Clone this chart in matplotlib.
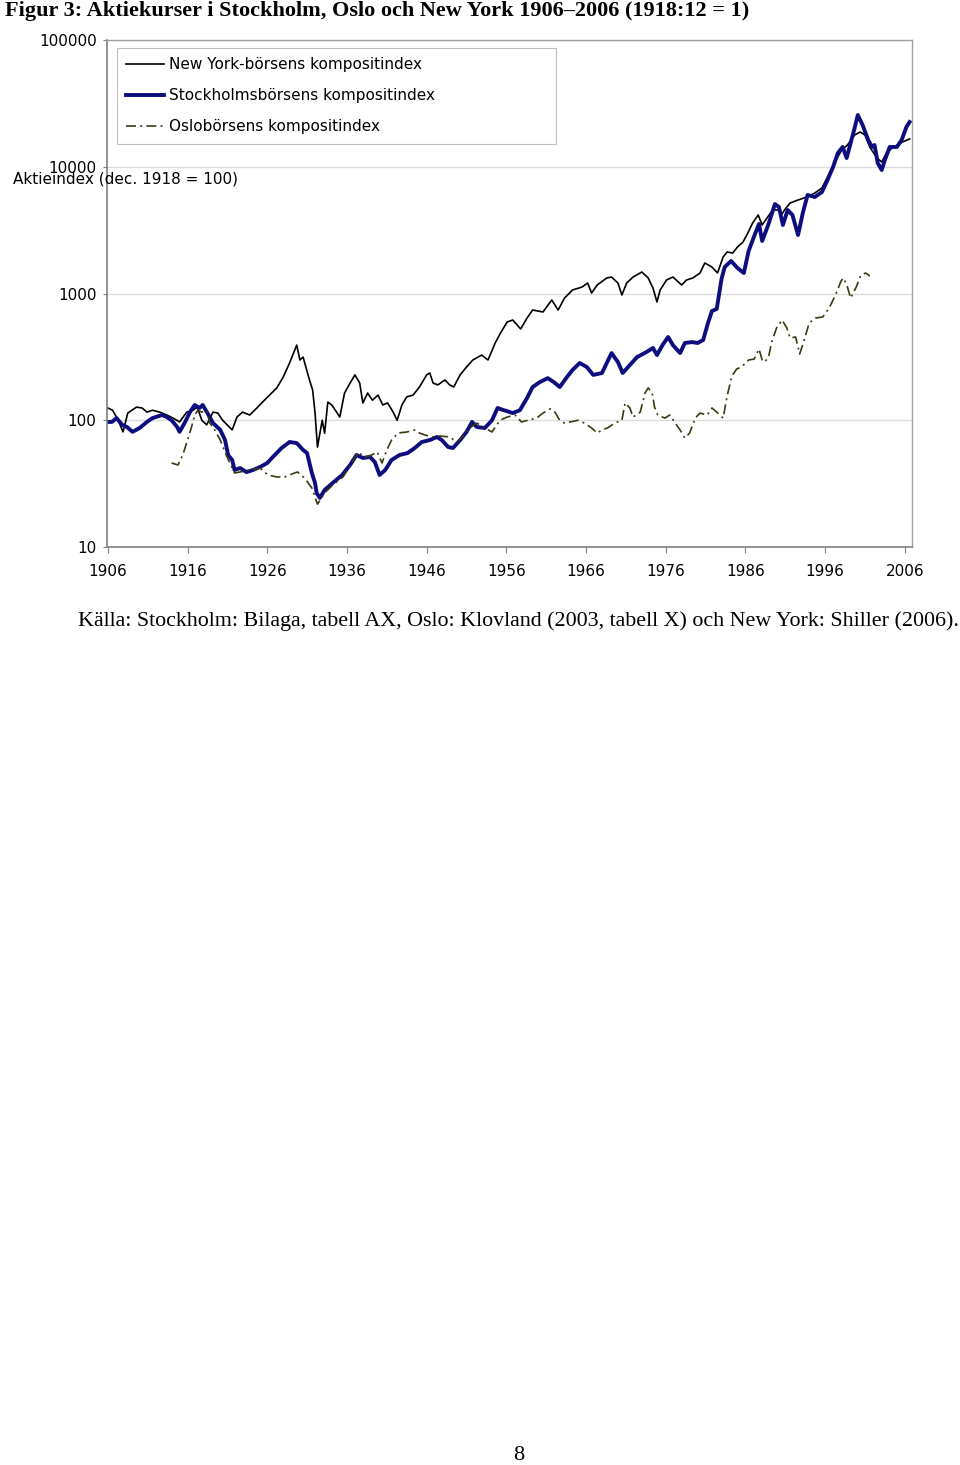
import matplotlib
matplotlib.use("Agg")
import matplotlib.pyplot as plt
from matplotlib.ticker import FixedLocator, NullLocator

# New York-börsens kompositindex (dec. 1918 = 100)
ny_year = [1906.0, 1906.6, 1907.3, 1907.9, 1908.5, 1909.6, 1910.3, 1910.9, 1911.6, 1912.5,
           1913.4, 1914.2, 1915.0, 1915.9, 1916.7, 1917.2, 1917.8, 1918.4, 1919.2, 1919.8,
           1920.4, 1921.6, 1922.2, 1922.9, 1923.8, 1924.7, 1925.4, 1926.3, 1927.2, 1928.0,
           1928.8, 1929.7, 1930.1, 1930.5, 1931.3, 1931.7, 1932.0, 1932.3, 1932.9, 1933.2,
           1933.6, 1934.1, 1934.7, 1935.1, 1935.7, 1936.4, 1937.0, 1937.6, 1938.0, 1938.6,
           1939.2, 1939.9, 1940.5, 1941.1, 1941.8, 1942.3, 1942.9, 1943.5, 1944.3, 1945.1,
           1946.0, 1946.4, 1946.8, 1947.4, 1948.3, 1948.9, 1949.4, 1950.2, 1951.0, 1951.8,
           1952.9, 1953.7, 1954.6, 1955.2, 1956.1, 1956.8, 1957.8, 1958.6, 1959.3, 1960.6,
           1961.7, 1962.5, 1963.3, 1964.3, 1965.5, 1966.2, 1966.7, 1967.4, 1968.6, 1969.2,
           1970.0, 1970.5, 1971.1, 1971.9, 1973.0, 1973.8, 1974.4, 1974.9, 1975.3, 1976.1,
           1976.9, 1978.0, 1978.6, 1979.4, 1980.3, 1980.9, 1981.8, 1982.5, 1983.2, 1983.7,
           1984.4, 1985.0, 1985.7, 1986.3, 1986.9, 1987.6, 1988.1, 1988.7, 1989.4, 1990.3,
           1990.6, 1990.9, 1991.6, 1992.6, 1993.7, 1994.7, 1995.6, 1996.3, 1997.2, 1998.1,
           1998.8, 1999.7, 2000.4, 2001.0, 2001.6, 2002.5, 2003.1, 2003.7, 2004.4, 2005.1,
           2005.7, 2006.6]
ny_val = [125, 120, 100, 81, 114, 127, 125, 116, 120, 116,
          110, 104, 97, 116, 120, 127, 100, 92, 116, 114,
          100, 84, 106, 116, 110, 125, 139, 158, 180, 219,
          283, 392, 299, 315, 208, 173, 114, 61.5, 100, 79,
          139, 132, 116, 106, 164, 197, 228, 197, 137, 164,
          144, 158, 132, 137, 116, 100, 132, 153, 158, 183,
          228, 236, 197, 190, 208, 190, 183, 228, 263, 299,
          327, 299, 407, 479, 596, 618, 525, 641, 741, 715,
          889, 741, 921, 1066, 1125, 1210, 1009, 1167, 1326, 1349,
          1210, 973, 1210, 1349, 1478, 1326, 1105, 857, 1066, 1278,
          1349, 1167, 1278, 1326, 1451, 1740, 1618, 1451, 1941, 2126,
          2087, 2328, 2549, 3001, 3600, 4163, 3471, 3941, 4558, 4558,
          4240, 4558, 5176, 5466, 5771, 6206, 6797, 8300, 10900, 13560,
          14850, 17800, 18800, 17800, 14320, 11720, 10900, 12840, 14060, 14850,
          15680, 16560]

# Stockholmsbörsens kompositindex
sthlm_year = [1906.0, 1906.5, 1907.1, 1907.8, 1908.4, 1909.1, 1910.0, 1910.9, 1911.6, 1912.8,
              1913.4, 1914.0, 1914.7, 1915.0, 1915.7, 1916.3, 1916.9, 1917.5, 1917.9, 1918.5,
              1919.2, 1920.1, 1920.7, 1921.1, 1921.6, 1921.9, 1922.6, 1923.4, 1924.2, 1925.1,
              1926.0, 1926.7, 1927.8, 1928.8, 1929.7, 1930.5, 1931.0, 1931.3, 1931.6, 1932.0,
              1932.2, 1932.6, 1933.2, 1934.2, 1935.4, 1936.4, 1937.2, 1938.0, 1938.9, 1939.5,
              1940.1, 1940.8, 1941.6, 1942.6, 1943.6, 1944.5, 1945.4, 1946.4, 1947.3, 1947.9,
              1948.7, 1949.3, 1950.2, 1951.0, 1951.7, 1952.3, 1953.3, 1954.2, 1954.9, 1955.5,
              1956.1, 1956.8, 1957.7, 1958.6, 1959.3, 1960.2, 1961.2, 1962.1, 1962.7, 1963.6,
              1964.3, 1965.2, 1966.1, 1966.9, 1968.0, 1968.6, 1969.2, 1970.0, 1970.6, 1971.5,
              1972.4, 1973.6, 1974.4, 1974.9, 1975.6, 1976.3, 1976.9, 1977.8, 1978.4, 1979.3,
              1980.0, 1980.7, 1981.3, 1981.8, 1982.4, 1983.0, 1983.4, 1984.2, 1985.0, 1985.8,
              1986.4, 1987.2, 1987.7, 1988.1, 1988.9, 1989.7, 1990.2, 1990.7, 1991.3, 1991.9,
              1992.6, 1993.2, 1993.8, 1994.7, 1995.6, 1996.3, 1997.0, 1997.6, 1998.2, 1998.7,
              1999.3, 1999.7, 2000.1, 2000.7, 2001.4, 2001.9, 2002.2, 2002.6, 2003.1, 2003.5,
              2004.1, 2005.0, 2005.6, 2006.2, 2006.6]
sthlm_val = [97, 97, 104, 92, 88.5, 81, 87, 97, 104, 110,
             106, 100, 88.5, 81, 97, 116, 132, 125, 132, 114,
             95, 84, 70, 53, 48.6, 40.5, 42, 39, 40.5, 42.8,
             46, 51.3, 60.4, 67.4, 66.1, 58.3, 55.1, 46, 38.4, 32,
             26.7, 24.4, 28.2, 32, 37, 44.4, 53.2, 50.4, 51.3, 46.8,
             37, 40.5, 48.6, 53.2, 55.1, 60.4, 67.4, 69.8, 73.8, 69.8,
             61.5, 60.4, 69.8, 80.8, 97, 88.5, 86.9, 100, 125, 121,
             118, 114, 120, 150, 183, 200, 215, 197, 183, 219,
             249, 283, 263, 228, 236, 283, 339, 288, 236, 273,
             315, 346, 372, 327, 392, 454, 392, 339, 407, 414,
             407, 430, 585, 728, 755, 1302, 1618, 1805, 1590, 1451,
             2165, 2947, 3535, 2596, 3535, 5083, 4812, 3471, 4558, 4163,
             2893, 4317, 5985, 5771, 6322, 7862, 9954, 12840, 14320, 11720,
             16260, 20230, 25600, 21350, 16260, 14320, 14850, 10700, 9428, 11310,
             14320, 14320, 16260, 20590, 22540]

# Oslobörsens kompositindex
oslo_year = [1914.0, 1914.8, 1915.4, 1916.0, 1916.5, 1916.9, 1917.3, 1917.8, 1918.4, 1918.8,
             1919.4, 1920.1, 1920.7, 1921.3, 1921.9, 1922.6, 1923.8, 1925.1, 1926.1, 1927.2,
             1928.2, 1929.1, 1929.8, 1930.7, 1931.6, 1932.3, 1933.2, 1934.2, 1935.5, 1936.7,
             1937.4, 1938.2, 1939.1, 1939.8, 1940.4, 1941.0, 1941.6, 1942.4, 1943.5, 1944.5,
             1945.1, 1945.8, 1946.7, 1947.7, 1948.9, 1949.8, 1950.5, 1951.4, 1952.3, 1953.3,
             1954.2, 1955.2, 1956.1, 1957.1, 1957.9, 1958.7, 1959.8, 1960.6, 1961.5, 1962.1,
             1962.7, 1963.3, 1964.0, 1965.0, 1965.8, 1966.7, 1967.4, 1968.0, 1968.7, 1969.6,
             1970.5, 1970.9, 1971.5, 1971.9, 1972.8, 1973.4, 1973.8, 1974.3, 1974.6, 1975.0,
             1975.9, 1976.5, 1977.1, 1977.8, 1978.4, 1979.0, 1979.7, 1980.3, 1981.2, 1981.8,
             1982.4, 1982.8, 1983.2, 1983.7, 1984.3, 1984.9, 1985.5, 1986.4, 1987.1, 1987.7,
             1988.1, 1988.4, 1988.9, 1989.3, 1989.9, 1990.6, 1991.2, 1991.6, 1992.3, 1992.8,
             1993.3, 1994.0, 1994.8, 1995.7, 1996.5, 1997.3, 1998.0, 1998.3, 1998.8, 1999.2,
             1999.9, 2000.5, 2001.1, 2001.6]
oslo_val = [46, 44.4, 53.2, 69.8, 88.5, 110, 120, 116, 120, 95,
            84, 70, 56.2, 46, 38.4, 39.1, 40.5, 42, 37, 35.7,
            35.7, 37.7, 39.1, 35, 29.2, 21.8, 26.7, 30.8, 35.7, 46.8,
            56.2, 51.3, 53.2, 56.2, 46, 58.3, 69.8, 79.3, 80.8, 83.8,
            79.3, 76.5, 73.8, 75.1, 73.8, 67.4, 73.8, 86.9, 95, 86.9,
            80.8, 100, 106, 110, 97, 100, 104, 114, 123, 116,
            100, 95, 97, 100, 95, 86.9, 79.3, 83.8, 86.9, 95,
            100, 137, 125, 106, 116, 164, 180, 164, 127, 110,
            104, 110, 97, 83.8, 72.4, 79.3, 104, 114, 110, 125,
            116, 110, 104, 155, 223, 254, 263, 299, 304, 365,
            299, 288, 315, 414, 534, 618, 534, 446, 454, 333,
            414, 585, 641, 653, 768, 973, 1255, 1326, 1125, 921,
            1125, 1400, 1451, 1374]

years_ticks = [1906, 1916, 1926, 1936, 1946, 1956, 1966, 1976, 1986, 1996, 2006]
y_ticks = [10, 100, 1000, 10000, 100000]

fig = plt.figure(figsize=(9.6, 14.65), dpi=100)
ax = fig.add_axes([0.1115, 0.6266, 0.8385, 0.3461])

ax.plot(ny_year, ny_val, color="black", lw=1.2, label="New York-börsens kompositindex")
ax.plot(sthlm_year, sthlm_val, color="#0d0d80", lw=2.8, label="Stockholmsbörsens kompositindex")
ax.plot(oslo_year, oslo_val, color="#3a3a10", lw=1.2, linestyle=(0, (6, 2.5, 1.2, 2.5)),
        label="Oslobörsens kompositindex")

ax.set_yscale("log")
ax.set_ylim(10, 100000)
ax.set_xlim(1905.9, 2006.9)
ax.yaxis.set_major_locator(FixedLocator(y_ticks))
ax.yaxis.set_minor_locator(NullLocator())
ax.set_yticklabels([str(v) for v in y_ticks])
ax.set_xticks(years_ticks)
ax.set_xticklabels([str(v) for v in years_ticks])
ax.tick_params(axis="both", labelsize=11, colors="black", width=0.8)
ax.tick_params(axis="x", length=4, pad=8.5, color="#808080")
ax.tick_params(axis="y", length=3, pad=4.5, color="#808080")

ax.grid(axis="y", color="#dcdcdc", lw=1)
ax.set_axisbelow(True)
for s in ["left", "bottom"]:
    ax.spines[s].set_color("#808080")
    ax.spines[s].set_linewidth(1.2)
for s in ["top", "right"]:
    ax.spines[s].set_color("#a0a0a0")
    ax.spines[s].set_linewidth(1.0)

leg = ax.legend(loc="upper left", bbox_to_anchor=(0.0124, 0.5, 0.545, 0.484), mode="expand",
                borderaxespad=0, frameon=True, fancybox=False, fontsize=11,
                handlelength=2.5, handletextpad=0.3, labelspacing=1.05, borderpad=0.6)
leg.get_frame().set_edgecolor("#b0b0b0")
leg.get_frame().set_linewidth(0.8)

# y-axis title sits horizontally next to the 10000 tick, as in the original
fig.text(0.0135, 1 - 179 / 1465, "Aktieindex (dec. 1918 = 100)", fontsize=11,
         ha="left", va="center")

fig.text(0.005, 1 - 11 / 1465, "Figur 3: Aktiekurser i Stockholm, Oslo och New York 1906–2006 (1918:12 = 1)",
         family="Liberation Serif", fontweight="bold", fontsize=16, ha="left", va="center")
fig.text(78 / 960, 1 - 621 / 1465,
         "Källa: Stockholm: Bilaga, tabell AX, Oslo: Klovland (2003, tabell X) och New York: Shiller (2006).",
         family="Liberation Serif", fontsize=15.8, ha="left", va="center")
fig.text(519 / 960, 1 - 1455 / 1465, "8", family="Liberation Serif", fontsize=16, ha="center", va="center")

fig.savefig("out.png", dpi=100)
